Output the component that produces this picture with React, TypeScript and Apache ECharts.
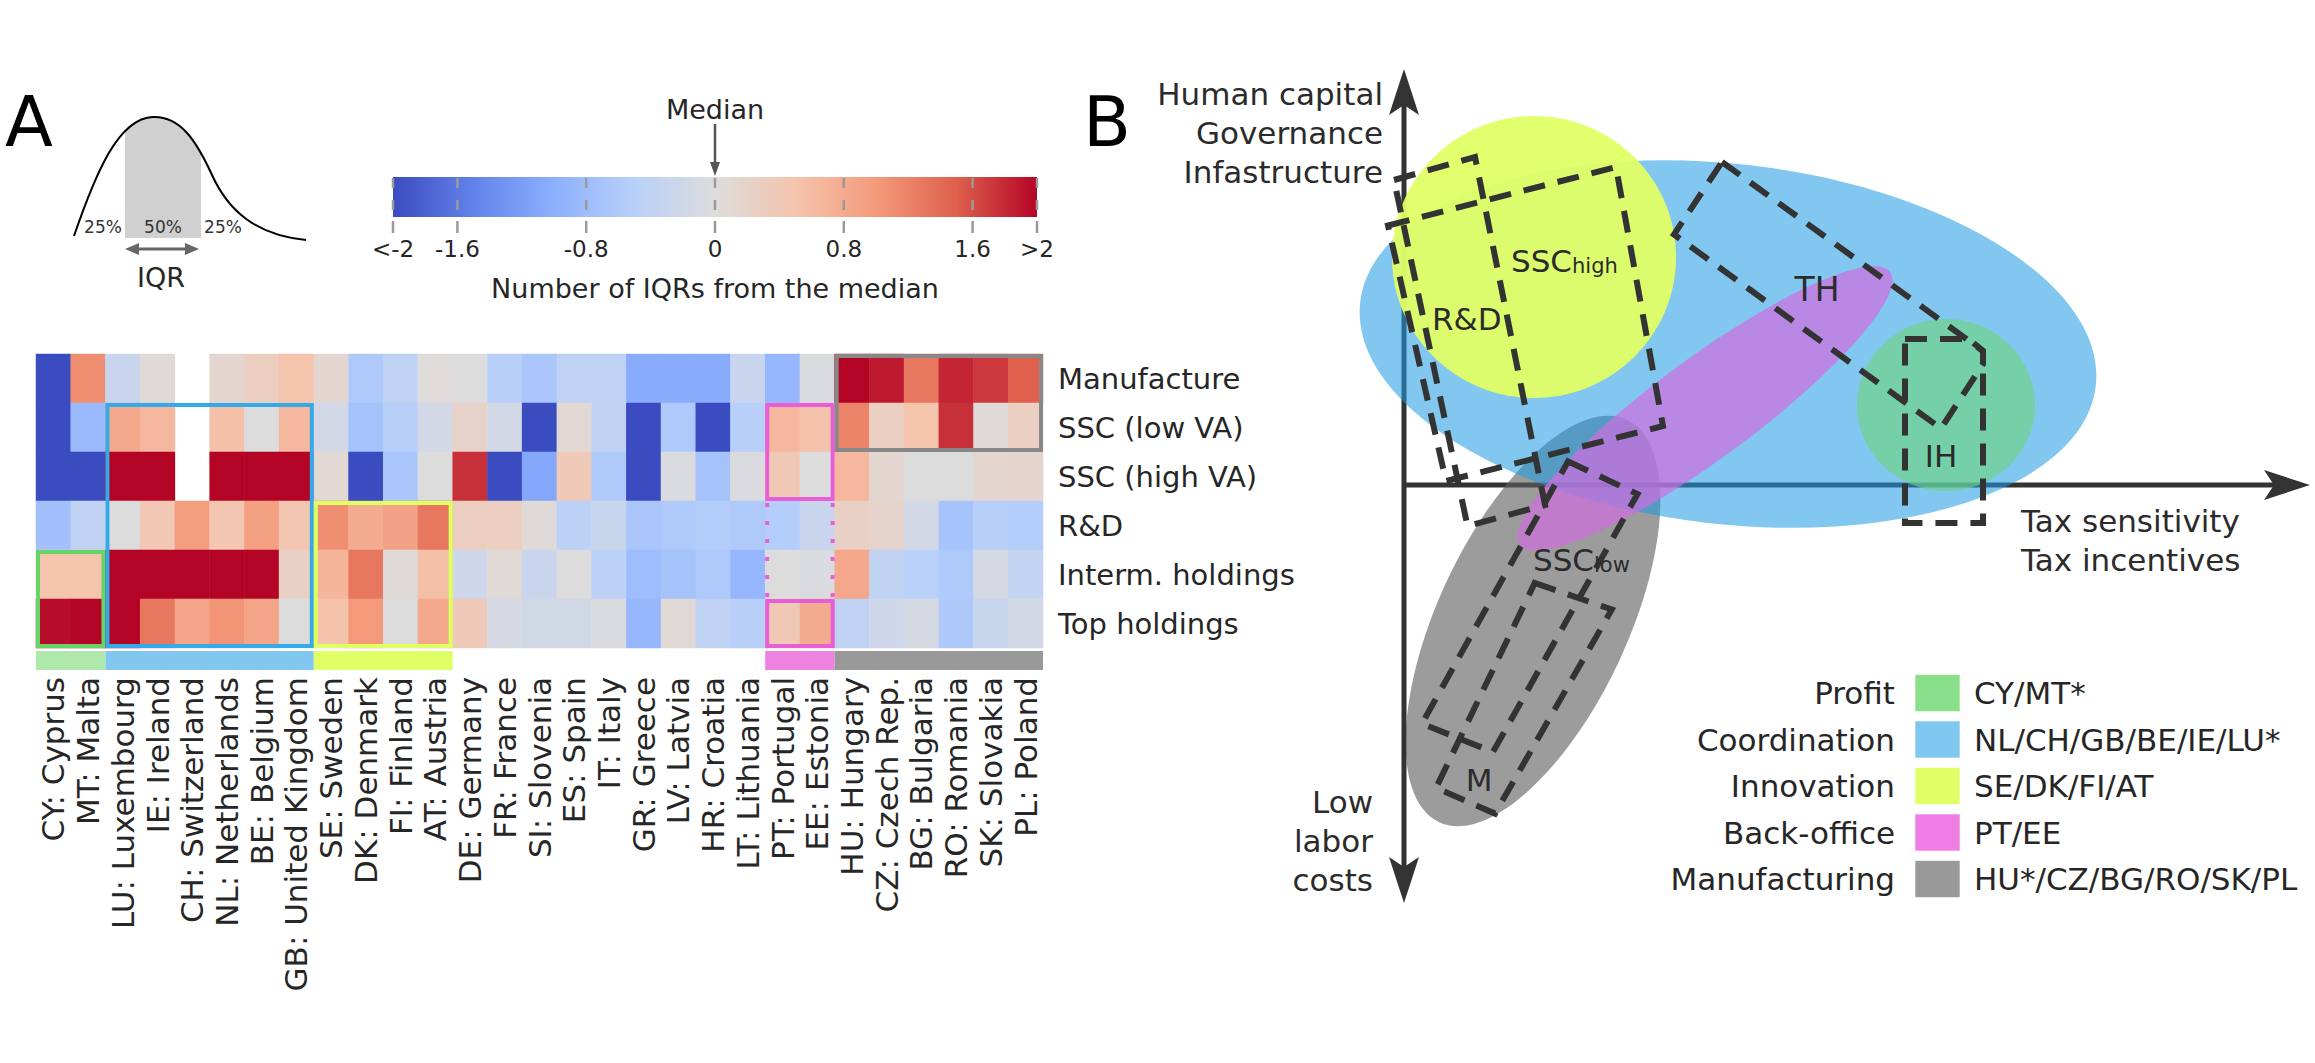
import React, { useEffect, useRef } from "react";
import * as echarts from "echarts";

const FONT = "DejaVu Sans";
const TEXT = "#262626";

// ---------------- Panel A data ----------------
const countries = [
  "CY: Cyprus", "MT: Malta", "LU: Luxembourg", "IE: Ireland", "CH: Switzerland", "NL: Netherlands",
  "BE: Belgium", "GB: United Kingdom", "SE: Sweden", "DK: Denmark", "FI: Finland", "AT: Austria",
  "DE: Germany", "FR: France", "SI: Slovenia", "ES: Spain", "IT: Italy", "GR: Greece", "LV: Latvia",
  "HR: Croatia", "LT: Lithuania", "PT: Portugal", "EE: Estonia", "HU: Hungary", "CZ: Czech Rep.",
  "BG: Bulgaria", "RO: Romania", "SK: Slovakia", "PL: Poland",
];
const activities = ["Manufacture", "SSC (low VA)", "SSC (high VA)", "R&D", "Interm. holdings", "Top holdings"];

const manufacture = [-2, 1.1, -0.28, 0.04, null, 0.12, 0.3, 0.5, 0.12, -0.6, -0.4, 0.02, 0.0, -0.5, -0.65, -0.4, -0.4, -1.05, -1.05, -1.05, -0.28, -0.9, -0.06, 2, 1.88, 1.3, 1.82, 1.72, 1.5];
const sscLowVA = [-2, -0.85, 0.82, 0.65, null, 0.55, 0.0, 0.64, -0.15, -0.72, -0.5, -0.15, 0.2, -0.15, -2, 0.08, -0.38, -2, -0.6, -2, -0.5, 0.64, 0.52, 1.2, 0.28, 0.5, 1.76, 0.04, 0.28];
const sscHighVA = [-2, -2, 2, 2, null, 2, 2, 2, 0.08, -2, -0.65, 0.0, 1.76, -2, -1.1, 0.38, -0.6, -2, -0.06, -0.72, -0.04, 0.4, 0.0, 0.64, 0.12, 0.0, 0.0, 0.14, 0.16];
const researchDev = [-0.75, -0.4, 0.0, 0.42, 0.95, 0.45, 0.92, 0.45, 1.1, 0.78, 0.9, 1.3, 0.3, 0.3, 0.05, -0.45, -0.3, -0.65, -0.6, -0.55, -0.6, -0.55, -0.28, 0.25, 0.18, -0.15, -0.7, -0.5, -0.55];
const intermHoldings = [0.5, 0.5, 2, 2, 2, 2, 2, 0.25, 0.68, 1.3, 0.05, 0.55, -0.22, 0.06, -0.28, 0.0, -0.45, -0.8, -0.72, -0.6, -0.9, 0.0, -0.05, 0.85, -0.38, -0.48, -0.6, -0.12, -0.35];
const topHoldings = [1.95, 2, 2, 1.3, 0.88, 1.05, 0.88, 0.0, 0.52, 1.0, 0.0, 0.82, 0.38, -0.12, -0.18, -0.18, -0.05, -0.9, 0.07, -0.4, -0.5, 0.4, 0.78, -0.4, -0.22, -0.12, -0.62, -0.3, -0.15];
const heatRows = [manufacture, sscLowVA, sscHighVA, researchDev, intermHoldings, topHoldings];

const coolwarm = ["#3b4cc0", "#6282ea", "#8db0fe", "#b8d0f9", "#dddcdc", "#f5c4ad", "#f49a7b", "#de604d", "#b40426"];

const colorbarTicks = [-2, -1.6, -0.8, 0, 0.8, 1.6, 2];
const colorbarTickLabels = ["<-2", "-1.6", "-0.8", "0", "0.8", "1.6", ">2"];
const medianValue = 0;

const groupBoxes = [
  { cols: [0, 1], rows: [4, 5], color: "#66d466" },
  { cols: [2, 7], rows: [1, 5], color: "#35aae8" },
  { cols: [8, 11], rows: [3, 5], color: "#e0ff60" },
  { cols: [21, 22], rows: [1, 2], color: "#e85ed8" },
  { cols: [21, 22], rows: [5, 5], color: "#e85ed8" },
  { cols: [23, 28], rows: [0, 1], color: "#888888" },
];
const groupDotted = [{ cols: [21, 22], rows: [3, 4], color: "#e85ed8" }];
const groupStrips = [
  { cols: [0, 1], color: "#aee8aa" },
  { cols: [2, 7], color: "#80c8ef" },
  { cols: [8, 11], color: "#e0ff66" },
  { cols: [21, 22], color: "#ee82e0" },
  { cols: [23, 28], color: "#999999" },
];

// ---------------- Panel B data (schematic units) ----------------
const axisArrows = [
  [0, 0, 0, 4.16],
  [0, 0, 0, -4.18],
  [-0.02, 0, 9.06, 0],
];
const clusterEllipses = [
  { name: "Manufacturing", cx: 1.29, cy: -1.36, rx: 2.22, ry: 0.95, angle: 65, color: "rgba(95,95,95,0.62)" },
  { name: "Coordination", cx: 3.24, cy: 1.41, rx: 3.7, ry: 1.8, angle: -6.5, color: "rgba(30,155,229,0.56)" },
  { name: "Innovation", cx: 1.3, cy: 2.28, rx: 1.42, ry: 1.41, angle: 0, color: "rgba(224,255,102,0.95)" },
  { name: "Back-office", cx: 3.01, cy: 0.765, rx: 2.3, ry: 0.5, angle: 36.4, color: "rgba(209,109,223,0.7)" },
  { name: "Profit", cx: 5.42, cy: 0.8, rx: 0.89, ry: 0.86, angle: 0, color: "rgba(110,212,130,0.65)" },
];
const dashedRegions = [
  { name: "R&D", points: [[-0.1, 3.05], [0.71, 3.28], [1.41, -0.2], [0.635, -0.41]] },
  { name: "SSC high", points: [[-0.16, 2.595], [2.12, 3.18], [2.59, 0.59], [0.42, 0.04]] },
  { name: "SSC low", points: [[1.64, 0.236], [2.335, -0.09], [0.89, -2.67], [0.18, -2.386]] },
  { name: "M", points: [[1.307, -0.98], [2.078, -1.245], [0.91, -3.286], [0.32, -3.03]] },
  { name: "TH", points: [[3.18, 3.23], [5.79, 1.34], [5.79, 1.21], [5.37, 0.565], [2.7, 2.505]] },
  { name: "IH", points: [[5.01, 1.46], [5.65, 1.46], [5.79, 1.34], [5.79, -0.38], [5.01, -0.38]] },
];
const regionLabels = [
  { main: "SSC", sub: "high", x: 1.07, y: 2.24, align: "left", size: 31 },
  { main: "R&D", sub: "", x: 0.28, y: 1.66, align: "left", size: 31 },
  { main: "SSC", sub: "low", x: 1.29, y: -0.75, align: "left", size: 31 },
  { main: "M", sub: "", x: 0.75, y: -2.95, align: "center", size: 31 },
  { main: "TH", sub: "", x: 4.13, y: 1.96, align: "center", size: 33 },
  { main: "IH", sub: "", x: 5.37, y: 0.29, align: "center", size: 31 },
];
const axisTitles = [
  { text: "Human capital\nGovernance\nInfastructure", x: -0.21, y: 3.52, align: "right" },
  { text: "Low\nlabor\ncosts", x: -0.31, y: -3.56, align: "right" },
  { text: "Tax sensitivity\nTax incentives", x: 6.17, y: -0.555, align: "left" },
];
const legendRoles = ["Profit", "Coordination", "Innovation", "Back-office", "Manufacturing"];
const legendCountries = ["CY/MT*", "NL/CH/GB/BE/IE/LU*", "SE/DK/FI/AT", "PT/EE", "HU*/CZ/BG/RO/SK/PL"];
const legendColors = ["#8ae08a", "#80c8f0", "#e0ff66", "#ee7ee3", "#999999"];

// ---------------- Illustration shapes ----------------
const bellPath = "M74 236 C95 175 118 118 153 117 C180 116 196 140 212 175 C228 210 255 235 306 240";
const bellMaskPath = bellPath + " L306 100 L60 100 L60 236 Z";
echarts.graphic.registerShape("bellCurve", echarts.graphic.extendPath(bellPath, {}));
echarts.graphic.registerShape("bellMask", echarts.graphic.extendPath(bellMaskPath, {}));

function buildOption() {
  const heatData: any[] = [];
  heatRows.forEach((row, r) =>
    row.forEach((v, c) => {
      if (v !== null) heatData.push([c, r, v]);
    })
  );

  const txt = (text: string, x: number, y: number, size: number, align = "center", extra: any = {}) => ({
    type: "text",
    x,
    y,
    z: 10,
    silent: true,
    style: { text, fontSize: size, fontFamily: FONT, fill: TEXT, align, verticalAlign: "middle", ...extra },
  });

  const legendEls: any[] = [];
  legendRoles.forEach((role, i) => {
    const y = 693 + i * 46.5;
    legendEls.push(txt(role, 1895, y, 31, "right"));
    legendEls.push({
      type: "rect",
      shape: { x: 1915, y: y - 18.5, width: 45, height: 37 },
      style: { fill: legendColors[i], stroke: "rgba(255,255,255,0.6)", lineWidth: 1 },
      z: 10,
    });
    legendEls.push(txt(legendCountries[i], 1974, y, 31, "left"));
  });

  const graphic = [
    { type: "text", x: 5, y: 122, z: 10, style: { text: "A", fontSize: 70, fontFamily: FONT, fill: "#000", align: "left", verticalAlign: "middle" } },
    { type: "text", x: 1083, y: 122, z: 10, style: { text: "B", fontSize: 70, fontFamily: FONT, fill: "#000", align: "left", verticalAlign: "middle" } },
    { type: "rect", shape: { x: 125, y: 105, width: 76, height: 133 }, style: { fill: "#d0d0d0" }, z: 1 },
    { type: "bellMask", x: 0, y: 0, style: { fill: "#ffffff", stroke: "none" }, z: 2 },
    { type: "bellCurve", x: 0, y: 0, style: { fill: "none", stroke: "#000", lineWidth: 2 }, z: 3 },
    txt("25%", 103, 227, 17, "center", { fill: "#333" }),
    txt("50%", 163, 227, 17, "center", { fill: "#333" }),
    txt("25%", 223, 227, 17, "center", { fill: "#333" }),
    { type: "line", shape: { x1: 134, y1: 249, x2: 190, y2: 249 }, style: { stroke: "#666", lineWidth: 3 }, z: 5 },
    { type: "polygon", shape: { points: [[125, 249], [139, 243], [139, 255]] }, style: { fill: "#666" }, z: 5 },
    { type: "polygon", shape: { points: [[199, 249], [185, 243], [185, 255]] }, style: { fill: "#666" }, z: 5 },
    txt("IQR", 161, 277, 27),
    txt("Number of IQRs from the median", 715, 288, 27),
    ...legendEls,
  ];

  const series: any[] = [
    {
      type: "heatmap",
      xAxisIndex: 0,
      yAxisIndex: 0,
      data: heatData,
      silent: true,
      emphasis: { disabled: true },
      progressive: 0,
    },
    {
      type: "custom",
      xAxisIndex: 0,
      yAxisIndex: 0,
      z: 4,
      silent: true,
      data: groupBoxes.map((b, i) => [b.cols[0], b.rows[0], i]),
      renderItem: (params: any, api: any) => {
        const b = groupBoxes[api.value(2)];
        const size = api.size([1, 1]);
        const bw = Math.abs(size[0]);
        const bh = Math.abs(size[1]);
        const p0 = api.coord([b.cols[0], b.rows[0]]);
        const p1 = api.coord([b.cols[1], b.rows[1]]);
        const left = p0[0] - bw / 2;
        const right = p1[0] + bw / 2;
        const top = p0[1] - bh / 2;
        const bottom = p1[1] + bh / 2;
        return {
          type: "rect",
          shape: { x: left + 2, y: top + 2, width: right - left - 4, height: bottom - top - 4 },
          style: { fill: "none", stroke: b.color, lineWidth: 4 },
        };
      },
    },
    {
      type: "custom",
      xAxisIndex: 0,
      yAxisIndex: 0,
      z: 4,
      silent: true,
      data: groupDotted.map((b, i) => [b.cols[0], b.rows[0], i]),
      renderItem: (params: any, api: any) => {
        const b = groupDotted[api.value(2)];
        const size = api.size([1, 1]);
        const bw = Math.abs(size[0]);
        const bh = Math.abs(size[1]);
        const p0 = api.coord([b.cols[0], b.rows[0]]);
        const p1 = api.coord([b.cols[1], b.rows[1]]);
        const left = p0[0] - bw / 2 + 2;
        const right = p1[0] + bw / 2 - 2;
        const top = p0[1] - bh / 2 + 2;
        const bottom = p1[1] + bh / 2 - 2;
        const st = { stroke: b.color, lineWidth: 4, lineDash: [4, 14] };
        return {
          type: "group",
          children: [
            { type: "line", shape: { x1: left, y1: top, x2: left, y2: bottom }, style: st },
            { type: "line", shape: { x1: right, y1: top, x2: right, y2: bottom }, style: st },
          ],
        };
      },
    },
    {
      type: "custom",
      xAxisIndex: 0,
      yAxisIndex: 0,
      z: 4,
      silent: true,
      data: groupStrips.map((s, i) => [s.cols[0], 5, i]),
      renderItem: (params: any, api: any) => {
        const s = groupStrips[api.value(2)];
        const size = api.size([1, 1]);
        const bw = Math.abs(size[0]);
        const bh = Math.abs(size[1]);
        const p0 = api.coord([s.cols[0], 5]);
        const p1 = api.coord([s.cols[1], 5]);
        const y = p0[1] + bh / 2 + 3;
        return {
          type: "rect",
          shape: { x: p0[0] - bw / 2, y, width: p1[0] - p0[0] + bw, height: 19 },
          style: { fill: s.color },
        };
      },
    },
    // colorbar gradient
    {
      type: "custom",
      xAxisIndex: 1,
      yAxisIndex: 1,
      silent: true,
      data: [[colorbarTicks[0], 0, colorbarTicks[colorbarTicks.length - 1]]],
      renderItem: (params: any, api: any) => {
        const a = api.coord([api.value(0), 0]);
        const b = api.coord([api.value(2), 1]);
        return {
          type: "rect",
          shape: { x: a[0], y: b[1], width: b[0] - a[0], height: a[1] - b[1] },
          style: {
            fill: new echarts.graphic.LinearGradient(
              0, 0, 1, 0,
              coolwarm.map((c, i) => ({ offset: i / (coolwarm.length - 1), color: c }))
            ),
          },
        };
      },
    },
    // colorbar ticks
    {
      type: "custom",
      xAxisIndex: 1,
      yAxisIndex: 1,
      z: 3,
      silent: true,
      data: colorbarTicks.map((v, i) => [v, 0, i]),
      renderItem: (params: any, api: any) => {
        const v = api.value(0);
        const i = api.value(2);
        const top = api.coord([v, 1]);
        const bot = api.coord([v, 0]);
        return {
          type: "group",
          children: [
            { type: "line", shape: { x1: top[0], y1: top[1] + 1, x2: top[0], y2: bot[1] - 1 }, style: { stroke: "#9a9a9a", lineWidth: 2.5, lineDash: [10, 12] } },
            { type: "line", shape: { x1: top[0], y1: bot[1] + 4, x2: top[0], y2: bot[1] + 16 }, style: { stroke: "#9a9a9a", lineWidth: 2.5 } },
            { type: "text", x: top[0], y: bot[1] + 32, style: { text: colorbarTickLabels[i], fontSize: 23, fontFamily: FONT, fill: TEXT, align: "center", verticalAlign: "middle" } },
          ],
        };
      },
    },
    // median pointer
    {
      type: "custom",
      xAxisIndex: 1,
      yAxisIndex: 1,
      z: 3,
      silent: true,
      data: [[medianValue, 1]],
      renderItem: (params: any, api: any) => {
        const p = api.coord([api.value(0), 1]);
        return {
          type: "group",
          children: [
            { type: "text", x: p[0], y: p[1] - 68, style: { text: "Median", fontSize: 27, fontFamily: FONT, fill: TEXT, align: "center", verticalAlign: "middle" } },
            { type: "line", shape: { x1: p[0], y1: p[1] - 53, x2: p[0], y2: p[1] - 12 }, style: { stroke: "#555", lineWidth: 2.5 } },
            { type: "polygon", shape: { points: [[p[0], p[1] - 1], [p[0] - 5, p[1] - 15], [p[0] + 5, p[1] - 15]] }, style: { fill: "#555" } },
          ],
        };
      },
    },
    // panel B axes
    {
      type: "custom",
      xAxisIndex: 2,
      yAxisIndex: 2,
      z: 1,
      silent: true,
      data: axisArrows,
      renderItem: (params: any, api: any) => {
        const s = api.coord([api.value(0), api.value(1)]);
        const t = api.coord([api.value(2), api.value(3)]);
        const dx = t[0] - s[0];
        const dy = t[1] - s[1];
        const len = Math.hypot(dx, dy);
        const ux = dx / len;
        const uy = dy / len;
        const px = -uy;
        const py = ux;
        const L = 46, N = 36, W = 15;
        const back = [t[0] - ux * L, t[1] - uy * L];
        const notch = [t[0] - ux * N, t[1] - uy * N];
        return {
          type: "group",
          children: [
            { type: "line", shape: { x1: s[0], y1: s[1], x2: notch[0], y2: notch[1] }, style: { stroke: "#333", lineWidth: 5 } },
            { type: "polygon", shape: { points: [t, [back[0] + px * W, back[1] + py * W], notch, [back[0] - px * W, back[1] - py * W]] }, style: { fill: "#333" } },
          ],
        };
      },
    },
    // panel B ellipses
    {
      type: "custom",
      xAxisIndex: 2,
      yAxisIndex: 2,
      z: 2,
      silent: true,
      data: clusterEllipses.map((e, i) => [e.cx, e.cy, i]),
      renderItem: (params: any, api: any) => {
        const e = clusterEllipses[api.value(2)];
        const c = api.coord([e.cx, e.cy]);
        const rx = api.size([e.rx, 0])[0];
        const ry = api.size([0, e.ry])[1];
        return {
          type: "ellipse",
          x: c[0],
          y: c[1],
          rotation: (e.angle * Math.PI) / 180,
          shape: { cx: 0, cy: 0, rx, ry },
          style: { fill: e.color },
        };
      },
    },
    // panel B dashed regions
    {
      type: "custom",
      xAxisIndex: 2,
      yAxisIndex: 2,
      z: 3,
      silent: true,
      data: dashedRegions.map((r, i) => [r.points[0][0], r.points[0][1], i]),
      renderItem: (params: any, api: any) => {
        const r = dashedRegions[api.value(2)];
        const pts = r.points.map((p) => api.coord(p));
        return {
          type: "polygon",
          shape: { points: pts },
          style: { fill: "none", stroke: "#333", lineWidth: 6, lineDash: [22, 13], lineJoin: "miter" },
        };
      },
    },
    // panel B region labels
    {
      type: "custom",
      xAxisIndex: 2,
      yAxisIndex: 2,
      z: 4,
      silent: true,
      data: regionLabels.map((l, i) => [l.x, l.y, i]),
      renderItem: (params: any, api: any) => {
        const l = regionLabels[api.value(2)];
        const p = api.coord([l.x, l.y]);
        const text = l.sub ? `{m|${l.main}}{s|${l.sub}}` : `{m|${l.main}}`;
        return {
          type: "text",
          x: p[0],
          y: p[1],
          style: {
            text,
            align: l.align,
            verticalAlign: "middle",
            rich: {
              m: { fontSize: l.size, fontFamily: FONT, fill: "#2b2b2b", verticalAlign: "bottom" },
              s: { fontSize: 21, fontFamily: FONT, fill: "#2b2b2b", verticalAlign: "bottom" },
            },
          },
        };
      },
    },
    // panel B axis titles
    {
      type: "custom",
      xAxisIndex: 2,
      yAxisIndex: 2,
      z: 4,
      silent: true,
      data: axisTitles.map((a, i) => [a.x, a.y, i]),
      renderItem: (params: any, api: any) => {
        const a = axisTitles[api.value(2)];
        const p = api.coord([a.x, a.y]);
        return {
          type: "text",
          x: p[0],
          y: p[1],
          style: { text: a.text, fontSize: 31, lineHeight: 39, fontFamily: FONT, fill: "#2b2b2b", align: a.align, verticalAlign: "middle" },
        };
      },
    },
  ];

  return {
    animation: false,
    backgroundColor: "#ffffff",
    textStyle: { fontFamily: FONT },
    grid: [
      { left: 36, top: 354, width: 1007, height: 294 },
      { left: 393, top: 177, width: 644, height: 40 },
      { left: 1330, top: 60, width: 985, height: 850 },
    ],
    xAxis: [
      {
        gridIndex: 0,
        type: "category",
        data: countries,
        position: "bottom",
        axisLine: { show: false },
        axisTick: { show: false },
        splitLine: { show: false },
        axisLabel: { rotate: 90, interval: 0, margin: 29, fontSize: 31, fontFamily: FONT, color: TEXT },
      },
      { gridIndex: 1, type: "value", min: -2, max: 2, show: false },
      { gridIndex: 2, type: "value", min: -0.74, max: 9.11, show: false },
    ],
    yAxis: [
      {
        gridIndex: 0,
        type: "category",
        data: activities,
        inverse: true,
        position: "right",
        axisLine: { show: false },
        axisTick: { show: false },
        splitLine: { show: false },
        axisLabel: { margin: 15, fontSize: 29, fontFamily: FONT, color: TEXT },
      },
      { gridIndex: 1, type: "value", min: 0, max: 1, show: false },
      { gridIndex: 2, type: "value", min: -4.25, max: 4.25, show: false },
    ],
    visualMap: {
      type: "continuous",
      min: -2,
      max: 2,
      show: false,
      seriesIndex: 0,
      dimension: 2,
      inRange: { color: coolwarm },
    },
    graphic: { elements: graphic },
    series,
  };
}

export default function App() {
  const ref = useRef<HTMLDivElement>(null);
  useEffect(() => {
    if (!ref.current) return;
    const chart = echarts.init(ref.current, undefined, { renderer: "svg" });
    chart.setOption(buildOption() as any);
    return () => chart.dispose();
  }, []);
  return (
    <div
      ref={ref}
      style={{ position: "fixed", left: 0, top: 0, width: 2315, height: 1063, background: "#ffffff" }}
    />
  );
}
